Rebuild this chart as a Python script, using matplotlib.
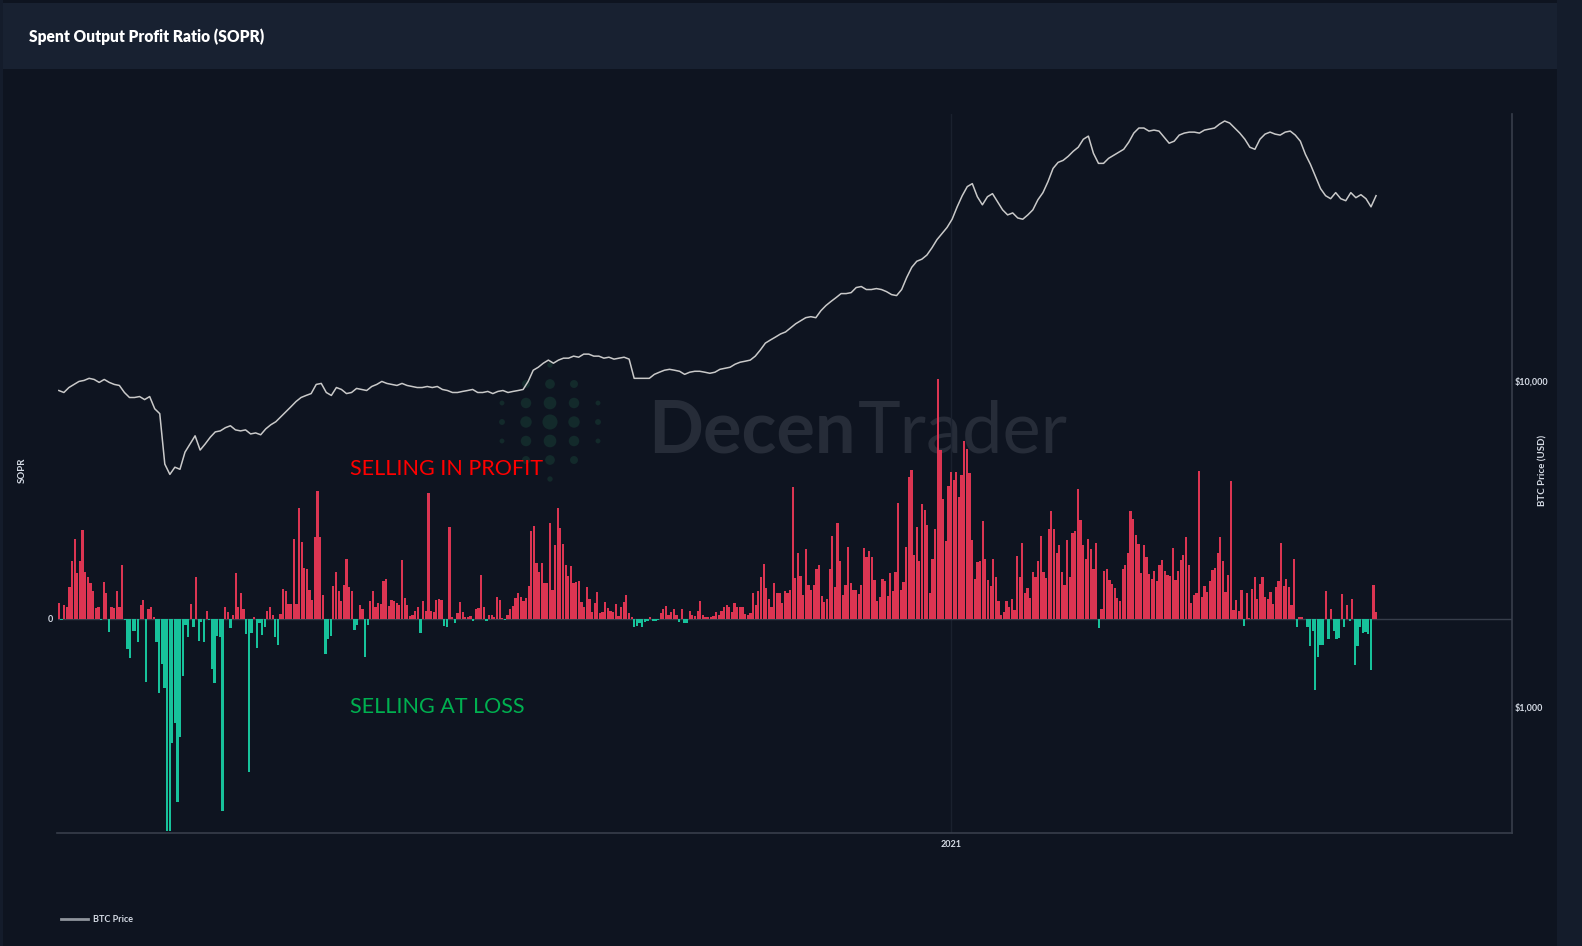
import numpy as np
import matplotlib
matplotlib.use("Agg")
import matplotlib.pyplot as plt
import matplotlib.dates as mdates
from matplotlib.lines import Line2D
from matplotlib.patches import Rectangle
from matplotlib.ticker import FixedLocator, NullLocator

plt.rcParams["font.family"] = ["Lato", "DejaVu Sans"]

# daily SOPR - 1, in thousandths, starting 2020-01-29
sopr = [
    16, -1, 14, 12, 32, 58, 80, 46, 58, 89, 47, 42, 36, 28, 11, 12, -1, 37, 26, -13,
    12, 11, 28, 12, 54, -1, -30, -39, -12, -12, -23, 14, 19, -63, 10, 12, 2, -23, -74, -45,
    -69, -212, -212, -124, -104, -183, -118, -57, -6, -18, 15, -8, 42, -22, -3, -23, 8, -1, -50, -64,
    -17, -18, -192, 12, 7, -9, 4, 46, 12, 26, 10, -15, -153, -14, 2, -29, -4, -16, -8, 8,
    12, 4, -18, -26, 5, 30, 28, 15, 15, 80, 15, 111, 77, 51, 50, 29, 19, 82, 128,
    82, 24, -35, -20, -17, 33, 47, 28, 18, 34, 60, 32, 28, -11, -6, 14, 10, -38, -6, 18,
    28, 12, 16, 15, 38, 40, 13, 19, 18, 16, 14, 59, 21, 14, 3, 4, 8, 12, -14, 18,
    8, 126, 8, 7, 19, 20, 19, -7, -8, 92, 2, -4, 6, 17, 7, 2, 2, 3, -2, 10,
    11, 44, 12, -2, 4, 4, 2, 22, 19, 1, -1, 4, 10, 13, 21, 26, 22, 18, 21, 33,
    88, 93, 56, 47, 56, 36, 36, 96, 29, 74, 111, 91, 75, 54, 43, 53, 36, 37,
    38, 17, 12, 32, 20, 7, 16, 27, 6, 7, 17, 11, 8, 7, 15, 3, 12, 17, 24, 6,
    2, -8, -7, -4, -8, -3, -2, 2, -2, -2, -1, 6, 10, 13, 4, 7, 10, 4, -3, 10,
    -4, -4, 8, 4, 3, 8, 18, 4, 2, 2, 2, 3, 7, 4, 8, 12, 14, 12, 7, 16,
    12, 12, 12, 5, 4, 6, 26, 14, 28, 42, 55, 31, 20, 12, 36, 26, 26, 16, 28, 26,
    29, 132, 41, 66, 43, 24, 70, 34, 29, 34, 50, 54, 23, 17, 20, 50, 83,
    32, 96, 58, 24, 34, 72, 36, 29, 29, 25, 34, 71, 62, 68, 62, 39, 18, 22, 40, 38,
    23, 46, 28, 47, 116, 29, 37, 72, 142, 149, 64, 92, 58, 115, 109, 94, 26, 60, 90, 240,
    169, 120, 78, 133, 147, 139, 147, 122, 144, 178, 170, 146, 79, 40, 57, 58, 98, 60, 39, 33,
    60, 42, 18, 4, 7, 18, 12, 20, 9, 63, 42, 76, 26, 31, 21, 47, 42, 58, 83, 47,
    41, 90, 108, 90, 66, 74, 47, 34, 79, 42, 86, 88, 130, 99, 74, 60, 80, 70,
    50, 76, -9, 10, 48, 50, 39, 35, 31, 21, 18, 50, 54, 66, 108, 100, 84, 75, 46, 74,
    62, 45, 40, 48, 38, 54, 59, 48, 44, 43, 71, 39, 48, 59, 64, 82, 54, 16, 24, 26,
    148, 22, 33, 27, 38, 49, 51, 66, 82, 58, 27, 44, 138, 9, 19, 8, 29, -7, 26, 1,
    30, 42, 20, 35, 42, 22, 20, 27, 15, 32, 38, 76, 33, 40, 32, 14, 60, -8, 2, 2,
    0, -8, -27, -12, -71, -38, -26, -26, 28, -20, 10, -12, -20, -19, 25, -8, 14, -2, 20, -46,
    -27, -8, -14, -13, -15, -51, 34, 7,
]

# BTC price (USD), evenly spaced over the same 500 days
price = [
    9350, 9220, 9550, 9760, 9970, 10040, 10190, 10110, 9900, 10110, 9900, 9760, 9690, 9220, 8900,
    8900, 8960, 8770, 8960, 8220, 7940, 5560, 5170, 5440, 5360, 6050, 6410, 6790, 6140, 6410,
    6720, 6980, 7030, 7190, 7290, 7080, 7030, 7080, 6880, 6930, 6840, 7130, 7340, 7500, 7770,
    8050, 8340, 8650, 8900, 9030, 9150, 9760, 9830, 9220, 9030, 9550, 9420, 9150, 9220, 9490,
    9420, 9350, 9620, 9760, 9970, 9830, 9760, 9690, 9830, 9690, 9620, 9550, 9550, 9620, 9550,
    9620, 9420, 9350, 9220, 9220, 9290, 9350, 9420, 9220, 9220, 9290, 9150, 9290, 9350, 9220,
    9290, 9350, 9420, 9970, 10790, 11020, 11340, 11590, 11340, 11590, 11750, 11750, 11920, 11830, 12090,
    12090, 11920, 11920, 11750, 11830, 11670, 11750, 11830, 11670, 10190, 10190, 10190, 10190, 10480, 10640,
    10790, 10860, 10790, 10710, 10480, 10640, 10710, 10710, 10640, 10560, 10640, 10860, 10940, 11020, 11260,
    11420, 11500, 11590, 11920, 12450, 13070, 13360, 13640, 13940, 14140, 14560, 14980, 15300, 15640, 15750,
    15640, 16430, 17040, 17540, 18020, 18540, 18540, 18670, 19350, 19490, 19080, 19080, 19210, 19080, 18800,
    18410, 18280, 19080, 20770, 22320, 23300, 23640, 24340, 25610, 27140, 28330, 29580, 31350, 34220, 37010,
    39470, 40310, 36750, 34710, 36750, 37550, 35460, 33500, 32320, 32780, 31630, 31350, 32320, 33500, 35970,
    37830, 40900, 44880, 46840, 47510, 48890, 50660, 52140, 55150, 56380, 49940, 46510, 46510, 48190, 49230,
    50300, 51380, 54020, 57600, 59700, 59700, 58420, 58840, 58420, 55980, 53630, 54400, 56790, 57600, 58000,
    58000, 57600, 58840, 59270, 59700, 61400, 62730, 61840, 59700, 57600, 55170, 52120, 51380, 55170, 57190,
    58000, 57190, 56790, 58000, 58420, 56790, 54400, 49590, 46170, 42390, 38920, 37020, 36240, 37830, 36240,
    35730, 37830, 36500, 37280, 36240, 34220, 37020,
]

start_date = "2020-01-29"
year_tick = "2021-01-01"
price_ticks = [1000, 10000]
price_tick_labels = ["$1,000", "$10,000"]

W, H = 1582, 946
BG = "#0e1420"
RED = "#dc3552"
GREEN = "#17c29b"
AXIS = "#373e4b"
TXT = "#d5dbe5"

fig = plt.figure(figsize=(W / 100, H / 100), dpi=100, facecolor=BG)

# background layer in pixel coordinates: panel frame, title bar, watermark
bg = fig.add_axes([0, 0, 1, 1], zorder=-5)
bg.set_xlim(0, W)
bg.set_ylim(H, 0)
bg.axis("off")
bg.add_patch(Rectangle((1557, 0), W - 1557, H, color="#141c2b", lw=0))
bg.add_patch(Rectangle((0, 0), 3, H, color="#141c2b", lw=0))
bg.add_patch(Rectangle((3, 3), 1554, 66, color="#182131", lw=0))
bg.text(29, 37, "Spent Output Profit Ratio (SOPR)", color="white",
        fontsize=11.2, fontweight="heavy", va="center", ha="left")

wm = dict(color="#262c38", fontsize=52, va="baseline", ha="left")
bg.text(648, 452, "Decen", fontweight="bold", **wm)
bg.text(858, 452, "Trader", fontweight="normal", **wm)
gx, gy = np.meshgrid(np.arange(-2, 3), np.arange(-3, 4))
gx, gy = gx.ravel(), gy.ravel()
r = np.hypot(gx / 2.2, gy / 3.2)
keep = r < 1
bg.scatter(550 + gx[keep] * 24, 422 + gy[keep] * 19, s=(1 - r[keep]) * 110 + 8,
           color="#132a2b", lw=0)

left, right, top, bottom = 57.5, 1512, 114, 833
ax = fig.add_axes([left / W, 1 - bottom / H, (right - left) / W, (bottom - top) / H])
ax.set_facecolor("none")

x0 = mdates.date2num(np.datetime64(start_date))
days = x0 + np.arange(len(sopr))
vals = np.array(sopr) / 1000.0
colors = [RED if v >= 0 else GREEN for v in vals]
ax.bar(days, vals, width=0.85, color=colors, linewidth=0, zorder=3)
ax.set_ylim(-0.214, 0.505)
ax.set_xlim(x0 - 0.5, x0 + 550.5)
ax.axhline(0, color=AXIS, lw=1, zorder=2)
ax.axvline(mdates.date2num(np.datetime64(year_tick)), color="#1a212e", lw=1, zorder=1)

for s in ["top", "left", "right"]:
    ax.spines[s].set_visible(False)
ax.spines["bottom"].set_color(AXIS)
ax.spines["bottom"].set_linewidth(1.2)
ax.xaxis.set_major_locator(FixedLocator([mdates.date2num(np.datetime64(year_tick))]))
ax.set_xticklabels(["2021"])
ax.tick_params(axis="x", length=0, pad=5, labelsize=6.5, labelcolor=TXT)
for t in ax.get_xticklabels():
    t.set_fontweight("bold")
ax.set_yticks([0])
ax.set_yticklabels(["0"])
ax.tick_params(axis="y", length=0, pad=3, labelsize=6.5, labelcolor=TXT)
for t in ax.get_yticklabels():
    t.set_fontweight("bold")

# BTC price on a log right axis
ax2 = ax.twinx()
ax2.plot(x0 + np.linspace(0, 499, len(price)), price, color="#c9c9c9", lw=1.1, zorder=4)
ax2.set_yscale("log")
ax2.set_ylim(10 ** 2.6135, 10 ** 4.819)
for s in ["top", "left", "bottom"]:
    ax2.spines[s].set_visible(False)
ax2.spines["right"].set_color(AXIS)
ax2.spines["right"].set_linewidth(1.2)
ax2.yaxis.set_major_locator(FixedLocator(price_ticks))
ax2.yaxis.set_minor_locator(NullLocator())
ax2.set_yticklabels(price_tick_labels)
ax2.tick_params(axis="y", length=0, pad=2, labelsize=6.5, labelcolor=TXT)
for t in ax2.get_yticklabels():
    t.set_fontweight("bold")

fig.text(22 / W, 1 - 470 / H, "SOPR", rotation=90, color=TXT, fontsize=7,
         fontweight="bold", ha="center", va="center")
fig.text(1543 / W, 1 - 470 / H, "BTC Price (USD)", rotation=90, color=TXT, fontsize=7,
         fontweight="bold", ha="center", va="center")

# legend
fig.lines.append(Line2D([61 / W, 88 / W], [1 - 919 / H] * 2, transform=fig.transFigure,
                        color="#8f949c", lw=2))
fig.text(93 / W, 1 - 919 / H, "BTC Price", color=TXT, fontsize=6.5, fontweight="bold",
         va="center", ha="left")

# annotations
fig.text(350 / W, 1 - 469 / H, "SELLING IN PROFIT", color="#ff0000", fontsize=15.5,
         va="center", ha="left")
fig.text(350 / W, 1 - 707 / H, "SELLING AT LOSS", color="#00b050", fontsize=15.5,
         va="center", ha="left")

fig.savefig("out.png", dpi=100, facecolor=BG)
